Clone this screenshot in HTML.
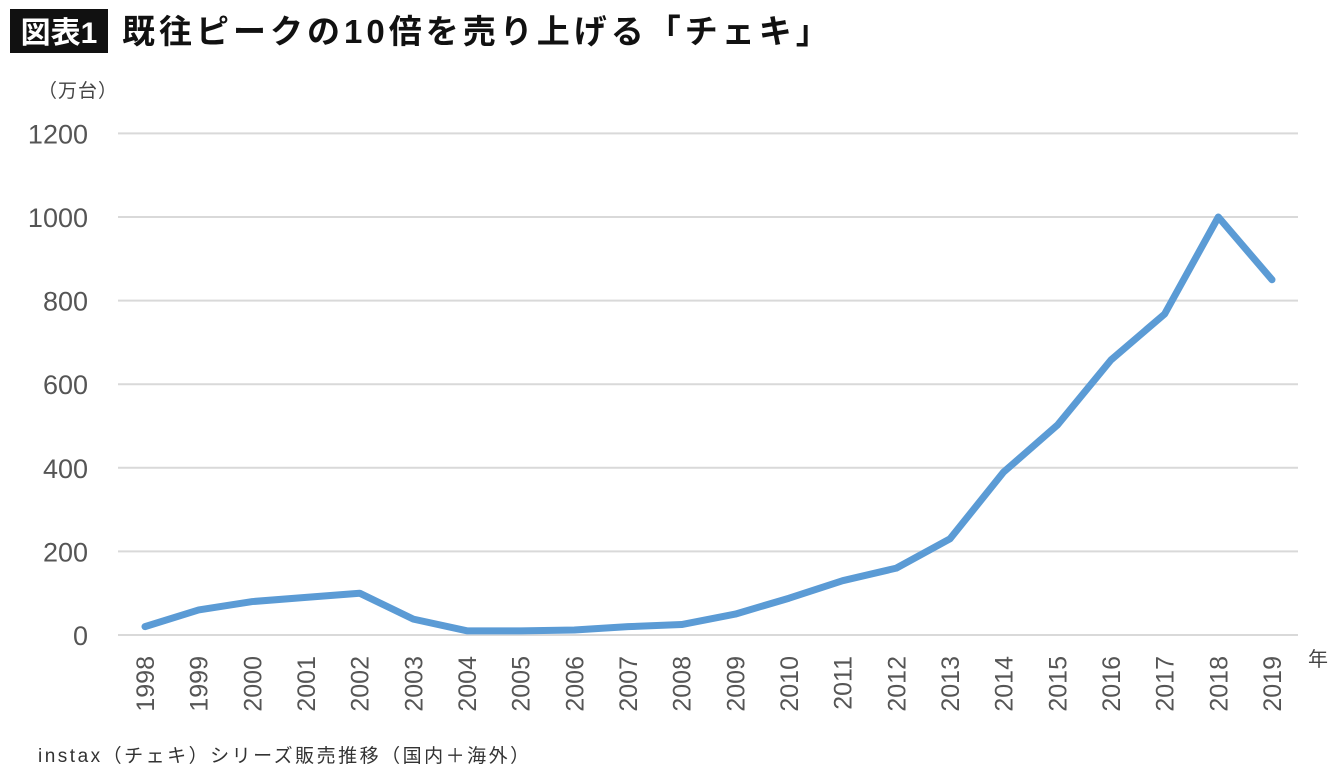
<!DOCTYPE html>
<html><head><meta charset="utf-8"><style>
body{margin:0;width:1340px;height:772px;background:#fff;overflow:hidden;font-family:"Liberation Sans","Noto Sans CJK JP",sans-serif;}
</style></head><body>
<svg width="1340" height="772" viewBox="0 0 1340 772" xmlns="http://www.w3.org/2000/svg" font-family="Liberation Sans, Noto Sans CJK JP, sans-serif">
<rect x="10" y="9" width="98" height="44" fill="#111"/>
<text x="59" y="43" text-anchor="middle" fill="#fff" font-size="30" font-weight="bold">図表1</text>
<text x="122" y="43" fill="#111" font-size="33" font-weight="bold" letter-spacing="4">既往ピークの10倍を売り上げる「チェキ」</text>
<text x="38" y="97" fill="#444" font-size="19" letter-spacing="1">（万台）</text>
<g id="grid"></g><g id="yt"></g><g id="xt"></g>
<polyline id="line" fill="none" stroke="#5b9bd5" stroke-width="7" stroke-linejoin="round" stroke-linecap="round"/>
<text x="1308" y="666" fill="#444" font-size="20">年</text>
<text x="38" y="762" fill="#333" font-size="19" letter-spacing="2.5">instax（チェキ）シリーズ販売推移（国内＋海外）</text>
</svg>
<script>
const years=["1998","1999","2000","2001","2002","2003","2004","2005","2006","2007","2008","2009","2010","2011","2012","2013","2014","2015","2016","2017","2018","2019"];
const sales=[20,60,80,90,100,38,10,10,12,20,25,50,88,130,160,230,390,502,658,768,1000,850];
const yTicks=[0,200,400,600,800,1000,1200];
const NS="http://www.w3.org/2000/svg";
const y=v=>635-v*0.418;
const x=i=>145+i*(1272-145)/(years.length-1);
const g=document.getElementById('grid'),yt=document.getElementById('yt'),xt=document.getElementById('xt');
yTicks.forEach(t=>{
 const l=document.createElementNS(NS,'line');
 
 
 l.setAttribute('x1',118);l.setAttribute('x2',1298);l.setAttribute('y1',y(t));l.setAttribute('y2',y(t));
 l.setAttribute('stroke','#d9d9d9');l.setAttribute('stroke-width',2);g.appendChild(l);
 const tx=document.createElementNS(NS,'text');
 
 
 tx.setAttribute('x',88);tx.setAttribute('y',y(t)+10);tx.setAttribute('text-anchor','end');
 tx.setAttribute('font-size','27');tx.setAttribute('fill','#555');tx.textContent=t;yt.appendChild(tx);
});
years.forEach((yr,i)=>{
 const tx=document.createElementNS(NS,'text');
 
 
 tx.setAttribute('transform',`translate(${x(i)+9},656) rotate(-90)`);
 tx.setAttribute('text-anchor','end');tx.setAttribute('font-size','25');tx.setAttribute('fill','#555');
 tx.textContent=yr;xt.appendChild(tx);
});
document.getElementById('line').setAttribute('points',sales.map((v,i)=>x(i)+','+y(v)).join(' '));
</script>
</body></html>
